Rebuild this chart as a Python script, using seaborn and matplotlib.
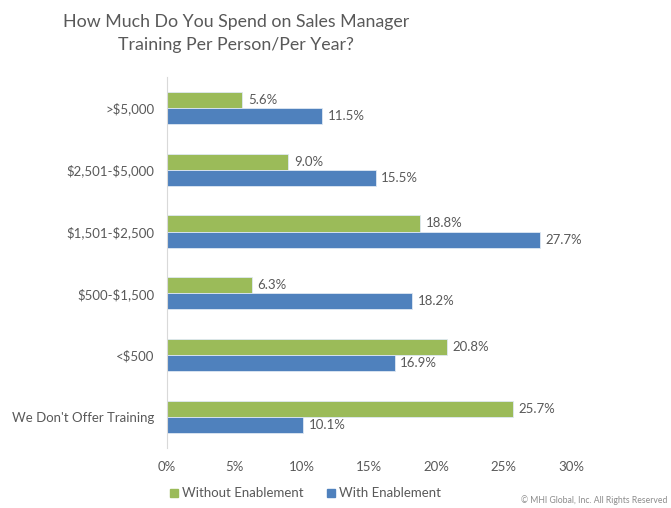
import matplotlib
matplotlib.use("Agg")
import matplotlib.pyplot as plt
import seaborn as sns
import pandas as pd
from matplotlib.lines import Line2D

categories = [">$5,000", "$2,501-$5,000", "$1,501-$2,500", "$500-$1,500", "<$500", "We Don't Offer Training"]
without_enablement = [5.6, 9.0, 18.8, 6.3, 20.8, 25.7]
with_enablement = [11.5, 15.5, 27.7, 18.2, 16.9, 10.1]
series_names = ["Without Enablement", "With Enablement"]
x_ticks = [0, 5, 10, 15, 20, 25, 30]
title = "How Much Do You Spend on Sales Manager\nTraining Per Person/Per Year?"
copyright_text = "© MHI Global, Inc. All Rights Reserved"

df = pd.DataFrame({
    "Category": categories * 2,
    "Value": without_enablement + with_enablement,
    "Series": [series_names[0]] * len(categories) + [series_names[1]] * len(categories),
})

sns.set_theme(style="white")
plt.rcParams["font.family"] = ["Lato", "DejaVu Sans"]
plt.rcParams["text.parse_math"] = False

GREEN = "#9BBB59"
BLUE = "#4F81BD"
TXT = "#595959"

fig = plt.figure(figsize=(6.71, 5.08), dpi=100)
ax = fig.add_axes([0.249, 0.119, 0.602, 0.729])

sns.barplot(data=df, y="Category", x="Value", hue="Series", order=categories,
            hue_order=series_names, palette=[GREEN, BLUE], orient="h", saturation=1,
            width=0.52, ax=ax, edgecolor="#dfe8f3", linewidth=0.6, legend=False)

for cont in ax.containers:
    ax.bar_label(cont, fmt="%.1f%%", padding=4, fontsize=9.5, color=TXT)

ax.set_xlim(0, 30)
ax.set_xticks(x_ticks)
ax.set_xticklabels([f"{t}%" for t in x_ticks])
ax.set_xlabel("")
ax.set_ylabel("")
ax.tick_params(axis="both", length=0, labelsize=9.5, colors=TXT)
ax.tick_params(axis="y", pad=9)
ax.tick_params(axis="x", pad=10)
for s in ["top", "right", "bottom"]:
    ax.spines[s].set_visible(False)
ax.spines["left"].set_color("#d9d9d9")
ax.spines["left"].set_linewidth(0.8)

fig.text(0.352, 0.934, title, ha="center", va="center", fontsize=12.8, color=TXT, linespacing=1.6)

handles = [Line2D([], [], marker="s", linestyle="", color=GREEN, markersize=6),
           Line2D([], [], marker="s", linestyle="", color=BLUE, markersize=6)]
fig.legend(handles, series_names, loc="center left", bbox_to_anchor=(0.232, 0.029),
           ncol=2, frameon=False, fontsize=9.5, labelcolor=TXT, handletextpad=0.1,
           columnspacing=1.6, handlelength=1.0)

fig.text(0.995, 0.006, copyright_text, ha="right", va="bottom", fontsize=6.2, color="#8c8c8c")

fig.savefig("out.png", dpi=100)
